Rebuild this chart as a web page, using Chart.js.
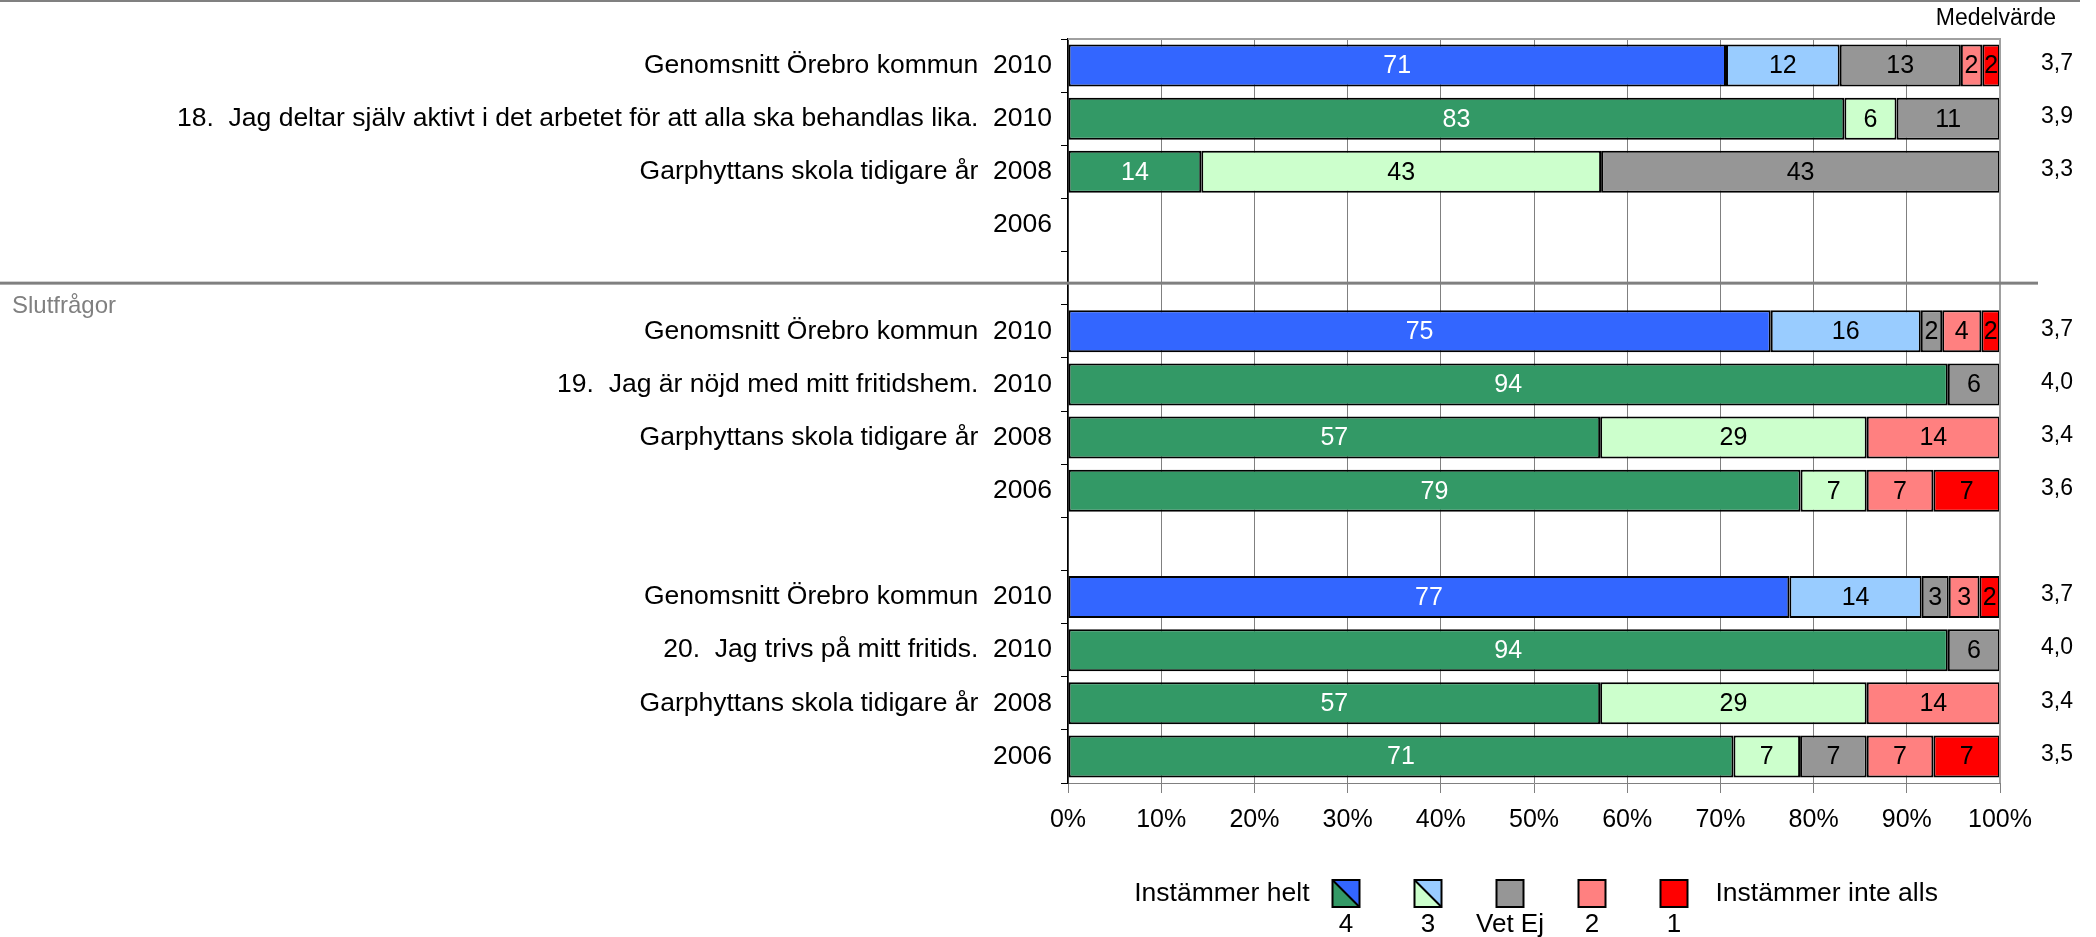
<!DOCTYPE html>
<html>
<head>
<meta charset="utf-8">
<title>Slutfrågor</title>
<script src="https://cdn.jsdelivr.net/npm/chart.js@4.4.0/dist/chart.umd.min.js"></script>
<style>
  html, body { margin: 0; padding: 0; background: #fff; }
  #wrap { position: relative; width: 2096px; height: 937px; }
</style>
</head>
<body>
<div id="wrap"><canvas id="myChart"></canvas></div>
<script>
/* globals Chart:false */
(() => {
  "use strict";

  // rows, top to bottom (empty rows are spacers)
  const questions = [
    "Genomsnitt Örebro kommun",
    "18.  Jag deltar själv aktivt i det arbetet för att alla ska behandlas lika.",
    "Garphyttans skola tidigare år",
    "",
    "",
    "Genomsnitt Örebro kommun",
    "19.  Jag är nöjd med mitt fritidshem.",
    "Garphyttans skola tidigare år",
    "",
    "",
    "Genomsnitt Örebro kommun",
    "20.  Jag trivs på mitt fritids.",
    "Garphyttans skola tidigare år",
    "",
  ];
  const years = ["2010", "2010", "2008", "2006", "", "2010", "2010", "2008", "2006", "", "2010", "2010", "2008", "2006"];
  const kommunRows = [0, 5, 10];

  // percent per answer
  const helt = [70.6, 83.3, 14.3, null, null, 75.4, 94.4, 57.1, 78.6, null, 77.4, 94.4, 57.1, 71.4];
  const tre = [12.2, 5.6, 42.9, null, null, 16.1, null, 28.6, 7.1, null, 14.2, null, 28.6, 7.15];
  const vetEj = [13.0, 11.1, 42.8, null, null, 2.3, 5.6, null, null, null, 2.9, 5.6, null, 7.15];
  const tva = [2.3, null, null, null, null, 4.2, null, 14.3, 7.15, null, 3.3, null, 14.3, 7.15];
  const ett = [1.9, null, null, null, null, 2.0, null, null, 7.15, null, 2.2, null, null, 7.15];
  const medel = [3.7, 3.9, 3.3, null, null, 3.7, 4.0, 3.4, 3.6, null, 3.7, 4.0, 3.4, 3.5];

  const xTicks = [0, 10, 20, 30, 40, 50, 60, 70, 80, 90, 100];

  const legendItems = [
    { label: "4", colors: ["#339966", "#3366FF"] },
    { label: "3", colors: ["#CCFFCC", "#99CCFF"] },
    { label: "Vet Ej", colors: ["#969696"] },
    { label: "2", colors: ["#FF8080"] },
    { label: "1", colors: ["#FF0000"] },
  ];

  const FONT = "'Liberation Sans', Arial, sans-serif";
  Chart.defaults.font.family = FONT;
  Chart.defaults.font.size = 25;
  Chart.defaults.color = "#000";

  const rowLabels = years.map((y, i) => (questions[i] ? questions[i] + "  " : "") + y);

  // extra drawing: frame, separator, value labels, Medelvärde and legend
  const extras = {
    id: "extras",
    afterDatasetsDraw(chart) {
      const c = chart.ctx;
      const a = chart.chartArea;
      c.save();
      c.strokeStyle = "#a0a0a0";
      c.lineWidth = 2;
      c.beginPath();
      c.moveTo(a.left, a.top);
      c.lineTo(a.right, a.top);
      c.lineTo(a.right, a.bottom);
      c.stroke();

      c.font = "25px " + FONT;
      c.textAlign = "center";
      c.textBaseline = "middle";
      chart.data.datasets.forEach((ds, di) => {
        chart.getDatasetMeta(di).data.forEach((el, i) => {
          const v = ds.data[i];
          if (v == null) return;
          c.fillStyle = di === 0 ? "#fff" : "#000";
          c.fillText(String(Math.round(v)), (el.x + el.base) / 2, el.y + 1);
        });
      });
      c.restore();
    },
    afterDraw(chart) {
      const c = chart.ctx;
      const a = chart.chartArea;
      const y = chart.scales.y;
      c.save();

      // top rule
      c.fillStyle = "#808080";
      c.fillRect(0, 0, 2080, 2);

      // section separator
      const sepY = y.getPixelForValue(4) + 5;
      c.fillRect(0, sepY - 1.5, a.right + 38, 3);
      c.font = "24px " + FONT;
      c.textAlign = "left";
      c.textBaseline = "middle";
      c.fillText("Slutfrågor", 12, sepY + 23);

      // Medelvärde column
      c.fillStyle = "#000";
      c.font = "23px " + FONT;
      c.textAlign = "right";
      c.fillText("Medelvärde", a.right + 56, 19);
      c.textAlign = "center";
      medel.forEach((m, i) => {
        if (m == null) return;
        c.fillText(m.toFixed(1).replace(".", ","), a.right + 57, y.getPixelForValue(i) - 2);
      });

      // legend
      const size = 27;
      const step = 82;
      const x0 = a.left + 278;
      const top = a.bottom + 97;
      legendItems.forEach((it, k) => {
        const bx = x0 + k * step - size / 2;
        if (it.colors.length === 2) {
          c.fillStyle = it.colors[0];
          c.beginPath();
          c.moveTo(bx, top);
          c.lineTo(bx + size, top + size);
          c.lineTo(bx, top + size);
          c.closePath();
          c.fill();
          c.fillStyle = it.colors[1];
          c.beginPath();
          c.moveTo(bx, top);
          c.lineTo(bx + size, top);
          c.lineTo(bx + size, top + size);
          c.closePath();
          c.fill();
        } else {
          c.fillStyle = it.colors[0];
          c.fillRect(bx, top, size, size);
        }
        c.strokeStyle = "#000";
        c.lineWidth = 2;
        c.strokeRect(bx, top, size, size);
        if (it.colors.length === 2) {
          c.beginPath();
          c.moveTo(bx, top);
          c.lineTo(bx + size, top + size);
          c.stroke();
        }
        c.fillStyle = "#000";
        c.textAlign = "center";
        c.font = "26px " + FONT;
        c.fillText(it.label, x0 + k * step, top + size + 18);
      });
      c.font = "26.5px " + FONT;
      c.textAlign = "right";
      c.fillText("Instämmer helt", x0 - size / 2 - 23, top + size / 2);
      c.textAlign = "left";
      c.fillText("Instämmer inte alls", x0 + 4 * step + size / 2 + 28, top + size / 2);
      c.restore();
    },
  };

  const kommunColor = (base, alt) => (ctx) => (kommunRows.includes(ctx.dataIndex) ? alt : base);

  const ctx = document.getElementById("myChart");
  // eslint-disable-next-line no-unused-vars
  const myChart = new Chart(ctx, {
    type: "bar",
    data: {
      labels: rowLabels,
      datasets: [
        { label: "4", data: helt, backgroundColor: kommunColor("#339966", "#3366FF") },
        { label: "3", data: tre, backgroundColor: kommunColor("#CCFFCC", "#99CCFF") },
        { label: "Vet Ej", data: vetEj, backgroundColor: "#969696" },
        { label: "2", data: tva, backgroundColor: "#FF8080" },
        { label: "1", data: ett, backgroundColor: "#FF0000" },
      ],
    },
    options: {
      indexAxis: "y",
      responsive: true,
      maintainAspectRatio: false,
      animation: false,
      datasets: {
        bar: {
          borderColor: "#000",
          borderWidth: 2,
          borderSkipped: false,
          barPercentage: 0.79,
          categoryPercentage: 1.0,
        },
      },
      layout: { padding: { left: 0, right: 96, top: 39, bottom: 94 } },
      scales: {
        x: {
          stacked: true,
          min: 0,
          max: 100,
          afterFit: (s) => { s.height = 60; },
          afterBuildTicks: (s) => { s.ticks = xTicks.map((v) => ({ value: v })); },
          ticks: { callback: (v) => v + "%", padding: 12, maxRotation: 0 },
          grid: { color: "#808080", lineWidth: 1, tickLength: 10, tickColor: "#808080" },
          border: { color: "#808080", width: 1 },
        },
        y: {
          stacked: true,
          afterFit: (s) => { s.width = 1068; },
          ticks: { padding: 9, autoSkip: false, font: { size: 26.5 } },
          grid: { offset: true, drawOnChartArea: false, tickLength: 7, color: "#000" },
          border: { color: "#000", width: 1.5 },
        },
      },
      plugins: {
        legend: { display: false },
        tooltip: { enabled: false },
      },
    },
    plugins: [extras],
  });
})();
</script>
</body>
</html>
